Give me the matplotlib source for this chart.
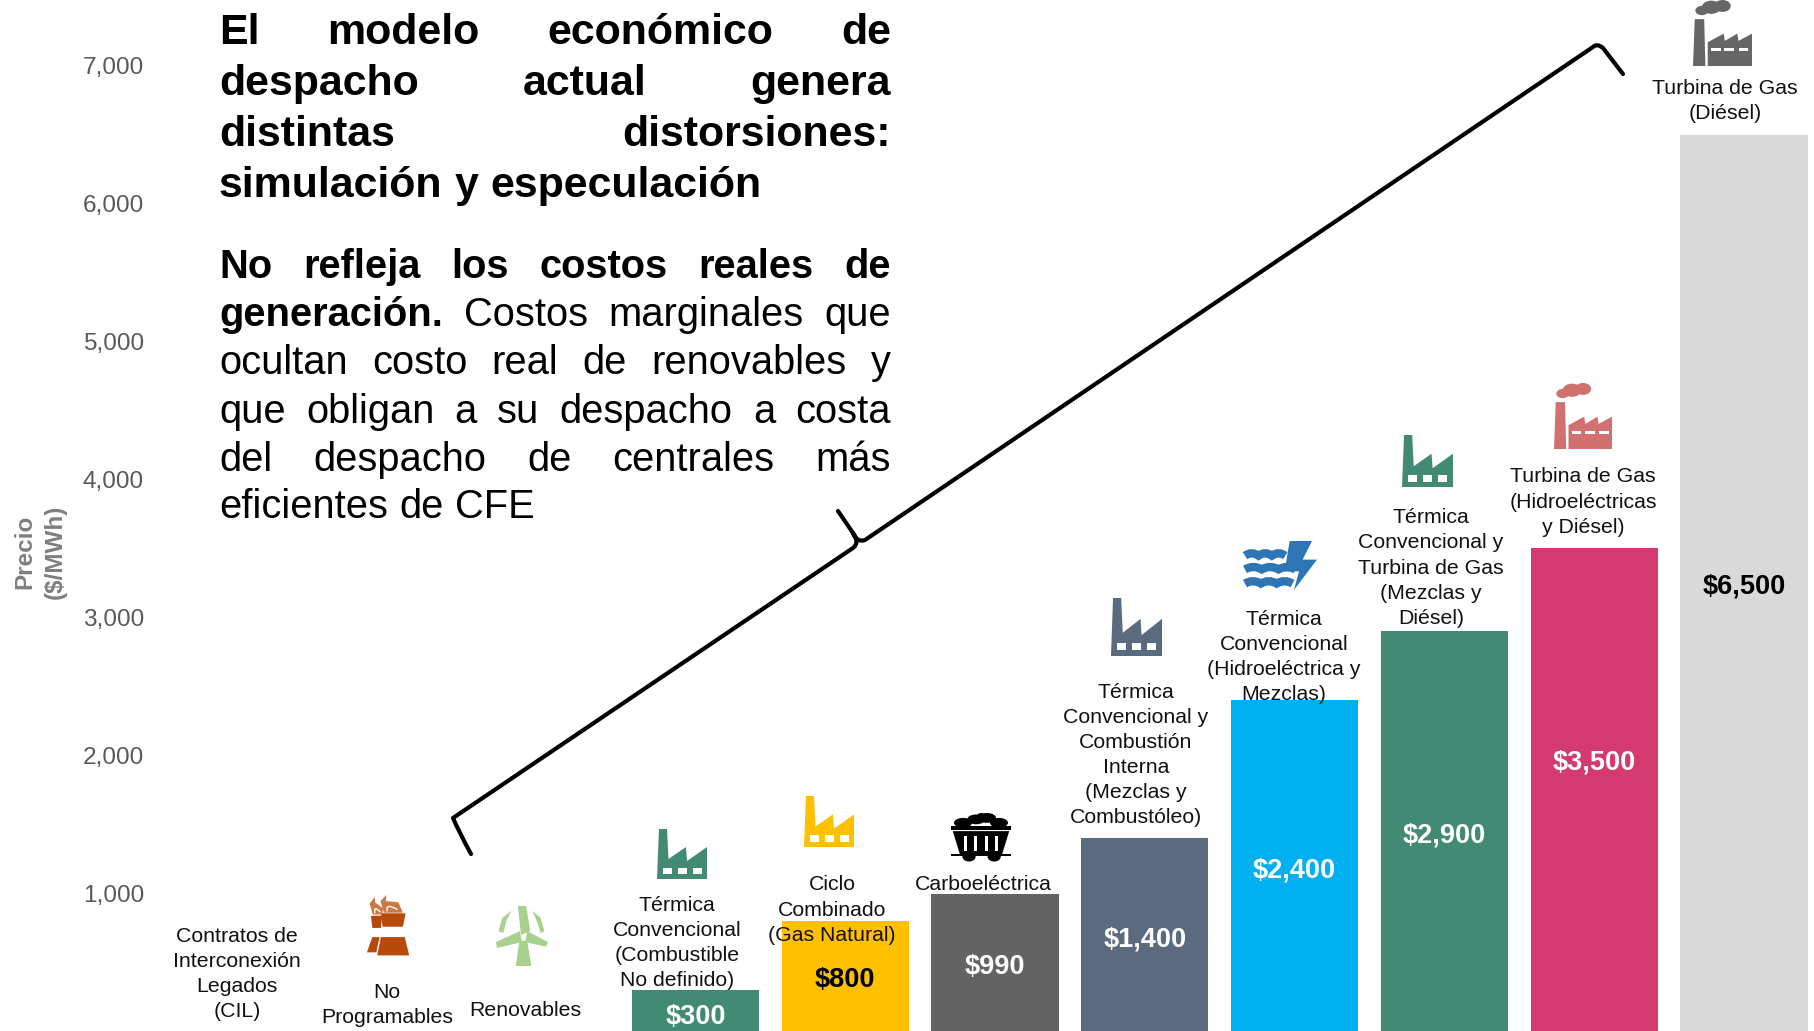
import matplotlib
matplotlib.use("Agg")
import matplotlib.pyplot as plt
from matplotlib.patches import Polygon, Ellipse, Rectangle, PathPatch
from matplotlib.path import Path
from matplotlib.transforms import Affine2D

W, H = 1814, 1031
plt.rcParams['font.family'] = ['Liberation Sans', 'DejaVu Sans']

# ---------- data ----------
values = [0, 0, 0, 300, 800, 990, 1400, 2400, 2900, 3500, 6500]
bar_colors = ['none', 'none', 'none', '#428A73', '#FFC000', '#636363', '#5A6B80',
              '#00B0F0', '#428A73', '#D43A70', '#D9D9D9']
value_text_colors = [None, None, None, 'white', 'black', 'white', 'white',
                     'white', 'white', 'white', 'black']
value_label_y = [0, 0, 0, 102, 367, 461, 663, 1164, 1417, 1947, 3225]
yticks = [1000, 2000, 3000, 4000, 5000, 6000, 7000]
labels = [
    "Contratos de\nInterconexión\nLegados\n(CIL)",
    "No\nProgramables",
    "Renovables",
    "Térmica\nConvencional\n(Combustible\nNo definido)",
    "Ciclo\nCombinado\n(Gas Natural)",
    "Carboeléctrica",
    "Térmica\nConvencional y\nCombustión\nInterna\n(Mezclas y\nCombustóleo)",
    "Térmica\nConvencional\n(Hidroeléctrica y\nMezclas)",
    "Térmica\nConvencional y\nTurbina de Gas\n(Mezclas y\nDiésel)",
    "Turbina de Gas\n(Hidroeléctricas\ny Diésel)",
    "Turbina de Gas\n(Diésel)",
]
label_pos = [(237, 974), (387, 1005), (525, 1010), (677, 943), (832, 910), (983, 885),
             (1136, 755), (1284, 657), (1431, 568), (1583, 502), (1725, 101)]
title_lines = ["El modelo económico de", "despacho actual genera",
               "distintas distorsiones:", "simulación y especulación"]
title_baselines = [44, 95, 146, 197]
body_lines = [
    [("No refleja los costos reales de", 'bold')],
    [("generación.", 'bold'), ("Costos marginales que", 'normal')],
    [("ocultan costo real de renovables y", 'normal')],
    [("que obligan a su despacho a costa", 'normal')],
    [("del despacho de centrales más", 'normal')],
    [("eficientes de CFE", 'normal')],
]
body_baselines = [278, 326, 374, 423, 471, 518]

# ---------- figure and axes ----------
fig = plt.figure(figsize=(W / 100, H / 100), dpi=100, facecolor='white')
AX_LEFT = 150
ax = fig.add_axes([AX_LEFT / W, 0, (W - AX_LEFT) / W, 1])
ax.patch.set_visible(False)
C0, PITCH = 246, 149.8
ax.set_xlim((AX_LEFT - C0) / PITCH, (W - C0) / PITCH)
ax.set_ylim(0, H / 137.9 * 1000)
for s in ax.spines.values():
    s.set_visible(False)
ax.set_xticks([])
ax.set_yticks(yticks)
ax.set_yticklabels([f"{t:,}" for t in yticks], fontsize=17.6, color='#595959')
ax.tick_params(axis='y', length=0, pad=4.3)

xs = list(range(len(values)))
ax.bar(xs, values, width=0.85, color=bar_colors, linewidth=0)
for x, v, yy, c in zip(xs, values, value_label_y, value_text_colors):
    if v:
        ax.text(x, yy, f"${v:,}", ha='center', va='center', fontsize=19.5,
                fontweight='bold', color=c)

px = Affine2D().scale(1, -1).translate(0, H)

fig.text(40, 552, "Precio\n($/MWh)", transform=px, rotation=90, ha='center', va='center',
         multialignment='center', fontsize=17.5, fontweight='bold', color='#7F7F7F', linespacing=1.45)

for lab, (lx, ly) in zip(labels, label_pos):
    fig.text(lx, ly, lab, transform=px, ha='center', va='center', multialignment='center',
             fontsize=15.3, color='#111111', linespacing=1.405, zorder=5)

# ---------- justified text ----------
renderer = fig.canvas.get_renderer()
LEFT, RIGHT = 219, 891


def width_of(word, size, weight):
    t = fig.text(0, 0, word, fontsize=size, fontweight=weight)
    w = t.get_window_extent(renderer).width
    t.remove()
    return w


def draw_line(parts, baseline, size, justify):
    words = []
    for text, weight in parts:
        words += [(w, weight) for w in text.split()]
    widths = [width_of(w, size, wt) for w, wt in words]
    if justify and len(words) > 1:
        gap = (RIGHT - LEFT - sum(widths)) / (len(words) - 1)
    else:
        gap = 0.28 * size / 0.72
    x = LEFT
    for (w, wt), wd in zip(words, widths):
        fig.text(x, baseline, w, transform=px, fontsize=size, fontweight=wt, color='black',
                 ha='left', va='baseline')
        x += wd + gap


for i, (line, b) in enumerate(zip(title_lines, title_baselines)):
    draw_line([(line, 'bold')], b, 30.9, i < len(title_lines) - 1)
for i, (line, b) in enumerate(zip(body_lines, body_baselines)):
    draw_line(line, b, 28.7, i < len(body_lines) - 1)

# ---------- brace ----------
M, L, Q = Path.MOVETO, Path.LINETO, Path.CURVE3
verts = [(471, 854), (459, 832), (453, 818), (853, 548), (860, 543), (853, 533), (838, 511),
         (853, 533), (857, 543), (865, 540), (1593, 47), (1597, 43), (1603, 48), (1623, 74)]
codes = [M, Q, Q, L, Q, Q, L, M, Q, Q, L, Q, Q, L]
fig.add_artist(PathPatch(Path(verts, codes), transform=px, fc='none', ec='black', lw=3.0,
                         capstyle='round', joinstyle='round', zorder=4))


# ---------- icons ----------
def box(x0, y0, x1, y1):
    return Affine2D().scale(x1 - x0, -(y1 - y0)).translate(x0, H - y0)


def add(p):
    fig.add_artist(p)


def factory(x0, y0, x1, y1, color):
    t = box(x0, y0, x1, y1)
    add(Polygon([(0, 1), (0.04, 0), (0.2, 0), (0.23, 0.6), (0.58, 0.36), (0.6, 0.64),
                 (1, 0.36), (1, 1)], closed=True, fc=color, ec='none', transform=t))
    for wx in (0.11, 0.41, 0.71):
        add(Rectangle((wx, 0.77), 0.18, 0.13, fc='white', ec='none', transform=t, zorder=2))


def smoke_factory(x0, y0, x1, y1, color):
    t = box(x0, y0, x1, y1)
    add(Polygon([(0, 1), (0.03, 0.29), (0.19, 0.29), (0.21, 1)], closed=True, fc=color, ec='none', transform=t))
    add(Polygon([(0.25, 1), (0.25, 0.64), (0.52, 0.51), (0.54, 0.62), (0.75, 0.51), (0.77, 0.62),
                 (1, 0.51), (1, 1)], closed=True, fc=color, ec='none', transform=t))
    for cx, cy, ew, eh in [(0.15, 0.16, 0.22, 0.14), (0.31, 0.11, 0.32, 0.2), (0.5, 0.09, 0.28, 0.18)]:
        add(Ellipse((cx, cy), ew, eh, fc=color, ec='none', transform=t))
    for wx, ww in [(0.31, 0.16), (0.53, 0.17), (0.78, 0.16)]:
        add(Rectangle((wx, 0.73), ww, 0.05, fc='white', ec='none', transform=t, zorder=2))


def waves(x0, y0, x1, y1, color):
    t = box(x0, y0, x1, y1)
    add(Polygon([(0.62, 0), (0.93, 0), (0.8, 0.38), (1, 0.38), (0.68, 1), (0.75, 0.62), (0.55, 0.62)],
                closed=True, fc=color, ec='none', transform=t))
    for yy, xe in [(0.3, 0.56), (0.58, 0.7), (0.87, 0.66)]:
        vs = [(0, yy)]
        cs = [Path.MOVETO]
        n = 3
        step = xe / n
        for k in range(n):
            vs += [((k + 0.5) * step, yy - 0.1), ((k + 1) * step, yy)]
            cs += [Path.CURVE3, Path.CURVE3]
        add(PathPatch(Path(vs, cs), transform=t, fc='none', ec=color, lw=6, zorder=1.8))


def coal(x0, y0, x1, y1, color='black'):
    t = box(x0, y0, x1, y1)
    for cx, cy, ew, eh in [(0.2, 0.2, 0.3, 0.2), (0.42, 0.13, 0.3, 0.2), (0.6, 0.1, 0.3, 0.2),
                           (0.8, 0.2, 0.3, 0.2), (0.5, 0.05, 0.12, 0.1)]:
        add(Ellipse((cx, cy), ew, eh, fc=color, ec='none', transform=t))
    add(Rectangle((0, 0.27), 1, 0.07, fc=color, ec='none', transform=t))
    add(Polygon([(0.03, 0.37), (0.97, 0.37), (0.85, 0.85), (0.15, 0.85)], closed=True, fc=color,
                ec='none', transform=t))
    add(Rectangle((0.0, 0.83), 1, 0.04, fc=color, ec='none', transform=t))
    for cx in (0.3, 0.72):
        add(Ellipse((cx, 0.89), 0.22, 0.2, fc=color, ec='none', transform=t))
    for sx in (0.21, 0.38, 0.56, 0.73):
        add(Rectangle((sx, 0.47), 0.06, 0.3, fc='white', ec='none', transform=t, zorder=2))


def towers(x0, y0, x1, y1, color):
    t = box(x0, y0, x1, y1)
    add(Polygon([(0.33, 0.3), (0.88, 0.3), (0.82, 0.52), (0.37, 0.52)], closed=True, fc=color, ec='none', transform=t))
    add(Polygon([(0.11, 0.34), (0.36, 0.34), (0.33, 0.54), (0.14, 0.54)], closed=True, fc=color, ec='none', transform=t))
    add(Polygon([(0.33, 0.69), (0.86, 0.69), (0.96, 0.99), (0.25, 0.99)], closed=True, fc=color, ec='none', transform=t))
    add(Polygon([(0.14, 0.69), (0.3, 0.69), (0.23, 0.94), (0.02, 0.94)], closed=True, fc=color, ec='none', transform=t))
    for vs in ([(0.4, 0.29), (0.32, 0.1), (0.45, 0), (0.44, 0.1), (0.72, 0.12), (0.82, 0.29)],
               [(0.15, 0.32), (0.08, 0.14), (0.2, 0.03), (0.2, 0.12), (0.38, 0.22), (0.36, 0.32)]):
        add(Polygon(vs, closed=True, fc='#CC7A45', ec='none', transform=t))
    for vs in ([(0.47, 0.27), (0.43, 0.12), (0.7, 0.24)], [(0.2, 0.3), (0.16, 0.16), (0.32, 0.28)]):
        add(PathPatch(Path(vs, [M, Q, Q]), fc='none', ec='white', lw=1, transform=t, zorder=2))


def mill(x0, y0, x1, y1, color):
    t = box(x0, y0, x1, y1)
    add(Polygon([(0.45, 0.58), (0.6, 0.58), (0.68, 1), (0.38, 1)], closed=True, fc=color, ec='none', transform=t))
    add(Polygon([(0.42, 0.0), (0.58, 0.0), (0.66, 0.42), (0.48, 0.48)], closed=True, fc=color, ec='none', transform=t))
    add(Polygon([(0.46, 0.42), (0.5, 0.6), (0.02, 0.7), (0.0, 0.6)], closed=True, fc=color, ec='none', transform=t))
    add(Polygon([(0.6, 0.42), (0.56, 0.6), (0.96, 0.68), (1.0, 0.6)], closed=True, fc=color, ec='none', transform=t))
    add(Polygon([(0.05, 0.42), (0.12, 0.2), (0.3, 0.08), (0.2, 0.24), (0.14, 0.45)], closed=True, fc=color, ec='none', transform=t))
    add(Polygon([(0.93, 0.42), (0.86, 0.2), (0.7, 0.08), (0.78, 0.24), (0.86, 0.45)], closed=True, fc=color, ec='none', transform=t))


towers(366, 895, 411, 956, '#B7490B')
mill(496, 906, 548, 966, '#A9D18E')
factory(657, 829, 707, 879, '#428A73')
factory(804, 796, 854, 847, '#FFC000')
coal(951, 813, 1011, 862)
factory(1111, 598, 1162, 656, '#5A6B80')
waves(1245, 541, 1317, 590, '#2E75B6')
factory(1402, 435, 1453, 487, '#428A73')
smoke_factory(1554, 383, 1612, 449, '#D0706F')
smoke_factory(1693, 0, 1752, 66, '#666666')

fig.savefig("out.png", dpi=100)
